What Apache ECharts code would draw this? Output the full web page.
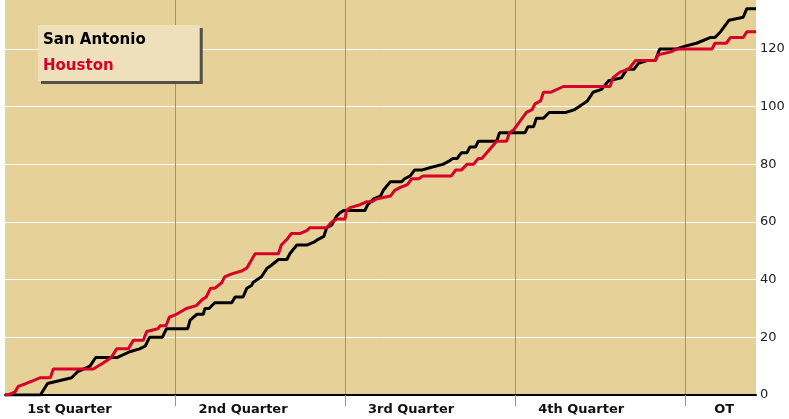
<!DOCTYPE html>
<html>
<head>
<meta charset="utf-8">
<script src="https://cdn.jsdelivr.net/npm/echarts@6/dist/echarts.min.js"></script>
<style>html,body{margin:0;padding:0;background:#fff}#c{width:789px;height:419px}</style>
</head>
<body>
<div id="c"></div>
<script>
// Game time in minutes (4 x 12-minute quarters + 5-minute OT)
const periodNames = ['1st Quarter', '2nd Quarter', '3rd Quarter', '4th Quarter', 'OT'];
const periodLabelAt = [4.55, 16.8, 28.66, 40.66, 50.75];
const periodBounds = [12, 24, 36, 48];
const yTicks = [0, 20, 40, 60, 80, 100, 120];

// [minute, cumulative score]
const sanAntonio = [
  [0,0],[2.5,0],[3.0,4],[4.7,6],[5.1,8],[6.0,10],[6.4,13],[7.9,13],[8.8,15],[9.5,16],[9.9,17],[10.2,20],
  [11.1,20],[11.4,23],[12.9,23],[13.06,26],[13.55,28],[14.0,28],[14.1,30],[14.4,30],[14.8,32],[16.0,32],
  [16.24,34],[16.8,34],[17.06,37],[17.4,38],[17.5,39],[18.1,41],[18.5,44],[18.8,45],[19.3,47],[19.9,47],
  [20.1,49],[20.6,52],[21.3,52],[21.8,53],[22.1,54],[22.5,55],[22.7,58],[23.06,59],[23.4,62],[23.6,63],
  [23.9,64],[25.4,64],[25.6,66],[26.0,68],[26.5,69],[26.7,71],[27.2,74],[28.0,74],[28.2,75],[28.6,76],
  [28.9,78],[29.4,78],[30.1,79],[30.9,80],[31.3,81],[31.6,82],[31.9,82],[32.2,84],[32.6,84],[32.8,86],
  [33.2,86],[33.4,88],[34.7,88],[34.9,91],[36.7,91],[36.9,93],[37.3,93],[37.5,96],[38.0,96],[38.4,98],
  [39.6,98],[40.2,99],[40.5,100],[41.1,102],[41.5,105],[42.1,106],[42.6,109],[43.5,110],[43.9,113],
  [44.4,113],[44.7,115],[45.3,116],[45.9,116],[46.2,120],[47.4,120],[48.0,121],[48.8,122],[49.8,124],
  [50.1,124],[50.5,126],[51.1,130],[52.1,131],[52.35,134],[53,134]
];
const houston = [
  [0,0],[0.2,0],[0.7,1],[0.94,3],[1.5,4],[2.0,5],[2.5,6],[3.2,6],[3.41,9],[6.23,9],[6.9,11],[7.5,13],
  [7.88,16],[8.7,16],[9.06,19],[9.76,19],[10.0,22],[10.8,23],[10.94,24],[11.36,24],[11.6,27],[12.1,28],
  [12.8,30],[13.5,31],[13.9,33],[14.2,34],[14.5,37],[14.8,37],[15.3,39],[15.5,41],[16.0,42],[16.7,43],
  [17.06,44],[17.3,46],[17.65,49],[19.3,49],[19.5,52],[19.9,54],[20.2,56],[20.8,56],[21.3,57],[21.5,58],
  [22.7,58],[23.06,60],[23.4,61],[24.0,61],[24.1,64],[24.35,65],[25.06,66],[25.5,67],[25.9,67],[26.2,68],
  [27.2,69],[27.5,71],[27.9,72],[28.4,73],[28.7,75],[29.2,75],[29.5,76],[31.5,76],[31.8,78],[32.2,78],
  [32.6,80],[33.06,80],[33.4,82],[33.65,82],[34.0,84],[34.35,86],[34.7,88],[35.4,88],[35.6,91],[35.9,92],
  [36.35,95],[36.8,98],[37.2,99],[37.4,101],[37.8,102],[38.0,105],[38.5,105],[39.4,107],[42.7,107],
  [42.9,110],[43.4,112],[44.0,113],[44.5,116],[45.9,116],[46.1,118],[47.0,119],[47.4,120],[49.9,120],
  [50.1,122],[50.9,122],[51.2,124],[52.1,124],[52.35,126],[53,126]
];

const chart = echarts.init(document.getElementById('c'), null, {renderer: 'canvas'});
const FONT = '"DejaVu Sans", Verdana, sans-serif';
chart.setOption({
  animation: false,
  grid: {left: 5, right: 33, top: 0, bottom: 24, show: true, backgroundColor: '#E6D298', borderWidth: 0},
  legend: {
    orient: 'vertical', left: 38, top: 25,
    icon: 'none', itemWidth: 0, itemHeight: 16, itemGap: 10,
    padding: [7, 54, 7, 0],
    backgroundColor: '#EEE0BB',
    shadowColor: '#555046', shadowBlur: 0, shadowOffsetX: 3, shadowOffsetY: 3,
    selectedMode: false,
    textStyle: {fontFamily: FONT, fontWeight: 'bold', fontSize: 15, lineHeight: 16},
    data: [
      {name: 'San Antonio', textStyle: {color: '#000'}},
      {name: 'Houston', textStyle: {color: '#D6002B'}}
    ]
  },
  xAxis: {
    type: 'value', min: 0, max: 53,
    axisLine: {show: true, lineStyle: {color: '#000', width: 2}},
    axisTick: {show: true, customValues: periodBounds, length: 11, lineStyle: {color: '#A8935E', width: 1}},
    splitLine: {show: true, lineStyle: {color: '#A8935E', width: 1}},
    axisLabel: {
      customValues: periodLabelAt, margin: 8,
      fontFamily: FONT, fontWeight: 'bold', fontSize: 13, color: '#111',
      formatter: v => { const i = periodLabelAt.indexOf(v); return i >= 0 ? periodNames[i] : ''; }
    }
  },
  yAxis: {
    type: 'value', position: 'right', min: 0, max: 137, interval: 20,
    axisLine: {show: false}, axisTick: {show: false},
    splitLine: {show: true, showMaxLine: false, lineStyle: {color: '#fff', width: 1}},
    axisLabel: {
      margin: 4, fontFamily: FONT, fontSize: 13, color: '#222',
      formatter: v => yTicks.indexOf(v) >= 0 ? String(v) : ''
    }
  },
  series: [
    {name: 'San Antonio', type: 'line', data: sanAntonio, showSymbol: false, z: 3,
     lineStyle: {color: '#000', width: 3}, itemStyle: {color: '#000'}},
    {name: 'Houston', type: 'line', data: houston, showSymbol: false, z: 4,
     lineStyle: {color: '#D6002B', width: 3}, itemStyle: {color: '#D6002B'}}
  ]
});
</script>
</body>
</html>
